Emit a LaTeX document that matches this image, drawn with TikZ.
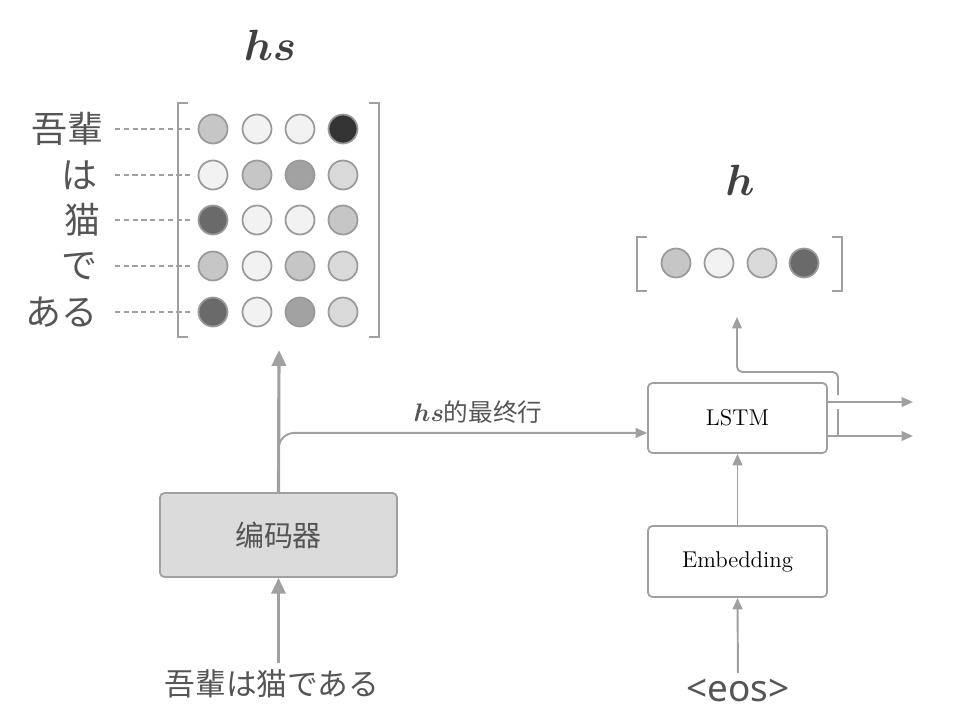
\documentclass[tikz,border=0pt]{standalone}
\usepackage{amsmath}
\usepackage{fontspec}
\newfontfamily\jpfont{Noto Sans CJK JP}
\newfontfamily\scfont{Noto Sans CJK SC}
\newfontfamily\eosfont{Noto Sans}
\usetikzlibrary{positioning,arrows.meta}

\definecolor{txtg}{HTML}{555555}
\definecolor{lineg}{HTML}{A0A0A0}
\definecolor{dotg}{HTML}{9A9A9A}
\definecolor{cA}{HTML}{F2F2F2}
\definecolor{cB}{HTML}{DADADA}
\definecolor{cC}{HTML}{C6C6C6}
\definecolor{cD}{HTML}{A2A2A2}
\definecolor{cE}{HTML}{6A6A6A}
\definecolor{cF}{HTML}{333333}

\begin{document}
\begin{tikzpicture}[
    x=0.02cm, y=-0.02cm,
    every node/.style={inner sep=0pt, text=txtg},
    dot/.style={circle, draw=dotg, line width=1pt, minimum size=0.58cm},
    block/.style={rectangle, draw=lineg, line width=1pt, rounded corners=2.5pt, fill=white, text=black, font=\fontsize{13pt}{15pt}\selectfont},
    encblock/.style={block, fill=black!14, minimum width=4.74cm, minimum height=1.68cm, text=txtg, font=\scfont\fontsize{16.5pt}{19pt}\selectfont},
    rowlabel/.style={anchor=east, font=\jpfont\fontsize{20.5pt}{24pt}\selectfont},
    vecname/.style={font=\fontsize{26pt}{30pt}\selectfont, text=black!75},
    brk/.style={draw=lineg, line width=1.2pt},
    dashline/.style={draw=lineg, line width=0.7pt, dash pattern=on 3pt off 2pt},
    line/.style={draw=lineg, line width=1.1pt},
    arrow/.style={line, -{Triangle[length=6.5pt, width=5.5pt]}},
    thickarrow/.style={draw=lineg, line width=1.8pt, -{Triangle[length=9pt, width=8pt]}}
]
\useasboundingbox (0,0) rectangle (968,724);

%% ---- Matrix hs ----
\node[vecname] (hsname) at (270,45) {$\boldsymbol{hs}$};
\draw[brk] (188,103) -| (178,337) -- (188,337);
\draw[brk] (369,103) -| (379,337) -- (369,337);

\node[dot, fill=cC] (m11) at (213,129) {}; \node[dot, fill=cA] (m12) at (257,129) {};
\node[dot, fill=cA] (m13) at (300,129) {}; \node[dot, fill=cF] (m14) at (343,129) {};
\node[dot, fill=cA] (m21) at (213,175) {}; \node[dot, fill=cC] (m22) at (257,175) {};
\node[dot, fill=cD] (m23) at (300,175) {}; \node[dot, fill=cB] (m24) at (343,175) {};
\node[dot, fill=cE] (m31) at (213,220) {}; \node[dot, fill=cA] (m32) at (257,220) {};
\node[dot, fill=cA] (m33) at (300,220) {}; \node[dot, fill=cC] (m34) at (343,220) {};
\node[dot, fill=cC] (m41) at (213,266) {}; \node[dot, fill=cA] (m42) at (257,266) {};
\node[dot, fill=cC] (m43) at (300,266) {}; \node[dot, fill=cB] (m44) at (343,266) {};
\node[dot, fill=cE] (m51) at (213,312) {}; \node[dot, fill=cA] (m52) at (257,312) {};
\node[dot, fill=cD] (m53) at (300,312) {}; \node[dot, fill=cB] (m54) at (343,312) {};
\coordinate (mbot) at (279,350);

%% ---- Row labels ----
\node[rowlabel] (w1) at (104,129) {吾輩};
\node[rowlabel] (w2) at (98,175) {は};
\node[rowlabel] (w3) at (101,220) {猫};
\node[rowlabel] (w4) at (98,266) {で};
\node[rowlabel] (w5) at (98,312) {ある};

\draw[dashline, shorten <=6.3pt, shorten >=4.5pt] (w1.east) -- (m11.west);
\draw[dashline, shorten <=9.6pt, shorten >=4.5pt] (w2.east) -- (m21.west);
\draw[dashline, shorten <=8pt, shorten >=4.5pt] (w3.east) -- (m31.west);
\draw[dashline, shorten <=9.6pt, shorten >=4.5pt] (w4.east) -- (m41.west);
\draw[dashline, shorten <=9.6pt, shorten >=4.5pt] (w5.east) -- (m51.west);

%% ---- Vector h ----
\node[vecname] (hname) at (740,180) {$\boldsymbol{h}$};
\draw[brk] (647,237) -| (637,291) -- (647,291);
\draw[brk] (832,237) -| (842,291) -- (832,291);
\node[dot, fill=cC] (h1) at (676,263) {};
\node[dot, fill=cA] (h2) at (719,263) {};
\node[dot, fill=cB] (h3) at (762,263) {};
\node[dot, fill=cE] (h4) at (804,263) {};
\coordinate (hin) at (737,317);

%% ---- Encoder ----
\node[encblock] (enc) at (278.5,535) {编码器};
\node[font=\jpfont\fontsize{17.5pt}{20pt}\selectfont] (src) at (272,684) {吾輩は猫である};
\node[font=\scfont\fontsize{14pt}{17pt}\selectfont] (lastrow) at (478,412) {$\boldsymbol{hs}$的最终行};

%% ---- Decoder side ----
\node[block, minimum width=3.58cm, minimum height=1.4cm] (lstm) at (737.5,418) {LSTM};
\node[block, minimum width=3.58cm, minimum height=1.42cm] (emb) at (737.5,561.5) {Embedding};
\node[font=\eosfont\fontsize{21pt}{24pt}\selectfont] (eos) at (738,690) {<eos>};

\coordinate (cout) at (913,402);
\coordinate (hout) at (913,436);
\coordinate (hsplit) at (838,436);
\coordinate (gaplo) at (838,409);
\coordinate (gaphi) at (838,395);
\coordinate (hbend) at (838,372);

%% ---- Arrows ----
\draw[thickarrow] (enc.south |- src.north) ++(0,-6) -- (enc.south);
\draw[thickarrow] (enc.north) -- (mbot);
\draw[arrow, rounded corners=9pt] (enc.north) |- ([yshift=-8.5pt]lstm.west);
\draw[arrow, shorten <=3pt] (eos.north) -- (emb.south);
\draw[arrow] (emb) -- (lstm);
\draw[arrow] (lstm.east |- cout) -- (cout);
\draw[arrow] (lstm.east |- hout) -- (hout);
\draw[line] (hsplit) -- (gaplo);
\draw[arrow, rounded corners=3pt] (gaphi) -- (hbend) -| (hin);

\end{tikzpicture}
\end{document}
